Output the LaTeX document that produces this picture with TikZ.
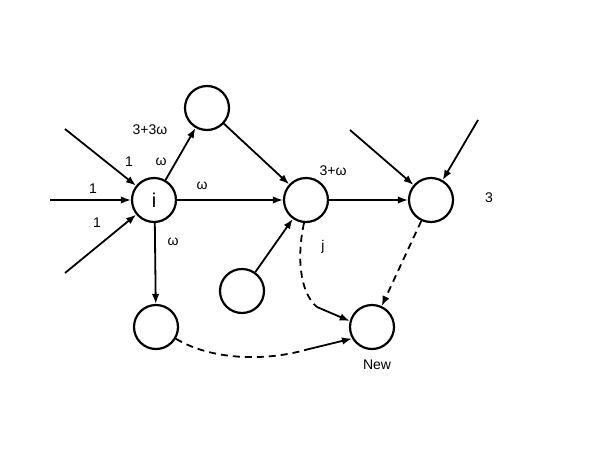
\documentclass[tikz,border=0pt]{standalone}
\usepackage{fontspec}
\setmainfont{Liberation Sans}
\usetikzlibrary{arrows.meta}
\tikzset{
  vertex/.style={circle, draw, line width=2.2pt, minimum size=44pt, inner sep=0pt},
  arr/.style={line width=1.8pt, -{Latex[length=10pt,width=7.5pt]}},
  dsh/.style={line width=1.8pt, dash pattern=on 7pt off 5pt},
  lbl/.style={font=\fontsize{14}{16}\selectfont, inner sep=0pt}
}
\begin{document}
\begin{tikzpicture}[x=1pt,y=-1pt]
	\useasboundingbox (0,0) rectangle (599,450);
	% --- Sommets ---
	\node[vertex, font=\fontsize{20}{24}\selectfont] (ni) at (154,200) {i};
	\node[vertex] (nup) at (207,108) {};
	\node[vertex] (nj) at (306,200) {};
	\node[vertex] (nr) at (431,200) {};
	\node[vertex] (nlow) at (242,291) {};
	\node[vertex] (nbl) at (156,327) {};
	\node[vertex] (nnew) at (372,327) {};

	% --- Extremites libres ---
	\coordinate (a1) at (65,129);
	\coordinate (a2) at (50,200);
	\coordinate (a3) at (65,273);
	\coordinate (b1) at (350,130);
	\coordinate (b2) at (478,120);
	\coordinate (k1) at (317,307);
	\coordinate (k2) at (305,350);

	% --- Arcs ---
	\draw[arr] (a1) -- (ni);
	\draw[arr] (a2) -- (ni.180);
	\draw[arr] (a3) -- (ni);
	\draw[arr] (ni) -- (nup);
	\draw[arr] (ni.0) -- (nj.180);
	\draw[arr] (ni.272) -- (nbl);
	\draw[arr] (nup) -- (nj);
	\draw[arr] (nlow) -- (nj);
	\draw[arr] (nj.0) -- (nr.180);
	\draw[arr] (b1) -- (nr);
	\draw[arr] (b2) -- (nr);

	% --- Arcs pointilles ---
	\draw[dsh, -{Latex[length=10pt,width=7.5pt]}] (nr) -- (nnew);
	\draw[dsh] (nj.265) .. controls (297,255) and (299,292) .. (k1);
	\draw[arr] (k1) -- (nnew.165);
	\draw[dsh] (nbl) .. controls (215,362) and (270,360) .. (k2);
	\draw[arr] (k2) -- (nnew.210);

	% --- Etiquettes ---
	\node[lbl] (l1) at (150,130) {3+3ω};
	\node[lbl] (l2) at (129,162) {1};
	\node[lbl] (l3) at (161,162) {ω};
	\node[lbl] (l4) at (93,189) {1};
	\node[lbl] (l5) at (97,223) {1};
	\node[lbl] (l6) at (202,186) {ω};
	\node[lbl] (l7) at (173,242) {ω};
	\node[lbl] (l8) at (333,171) {3+ω};
	\node[lbl] (l9) at (323,247) {j};
	\node[lbl] (l10) at (489,198) {3};
	\node[lbl] (l11) at (377,365) {New};
\end{tikzpicture}
\end{document}
